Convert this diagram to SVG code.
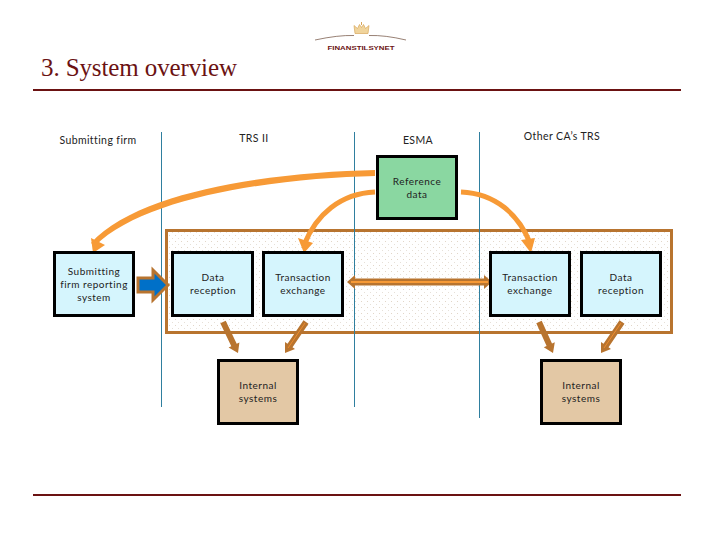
<svg xmlns="http://www.w3.org/2000/svg" width="720" height="540" viewBox="0 0 720 540">
<style>
text{font-family:"Lato","Open Sans","Liberation Sans",sans-serif;font-size:10px;font-weight:400;letter-spacing:.5px;fill:#222;text-anchor:middle}
.h{font-size:10.5px;letter-spacing:.4px}
.box{stroke:#000;stroke-width:3}
.blue{fill:#d5f5fd}
.tan{fill:#e3c8a5}
.v{stroke:#2f7f9f;stroke-width:1;fill:none}
.rule{fill:#6b1212}
.hd{fill:#f79a36}
.or{fill:none;stroke:#f79a36;stroke-width:5}
.br{stroke:#b8742f;fill:none}
.brf{fill:#b8742f}
.in{stroke:#f08c2c;stroke-width:1;fill:none}
</style>
<defs>
<pattern id="dots" width="6" height="6" patternUnits="userSpaceOnUse">
<rect x="1" y="1" width="1" height="1" fill="#e2d6c8"/><rect x="4" y="4" width="1" height="1" fill="#e6e0d8"/>
</pattern>
</defs>
<rect width="720" height="540" fill="#fff"/>
<g id="logo">
<path d="M355 33.500l-1-8 3.500 3 2-4 2 3 2-3 2 4 3.500-3-1 8z" fill="#f0d49c" stroke="#d9a75c" stroke-width=".7"/>
<path d="M361.500 22v3" stroke="#d9a75c" stroke-width="1"/>
<path d="M315 40Q338 35 354 35.500M369 35.500Q385 35 406 40" fill="none" stroke="#6b4a3a" stroke-width=".7"/>
<text x="361" y="50" style="font-family:'Liberation Sans',sans-serif;font-size:6px;font-weight:bold;letter-spacing:0;fill:#6b1212" textLength="67" lengthAdjust="spacingAndGlyphs">FINANSTILSYNET</text>
</g>
<text x="41" y="76" style="font-family:'Liberation Serif',serif;font-size:25px;font-weight:400;letter-spacing:0;fill:#6b1212;text-anchor:start" textLength="196">3. System overview</text>
<rect class="rule" x="33" y="89" width="648" height="2"/>
<rect class="rule" x="33" y="494" width="648" height="2"/>
<text class="h" x="98" y="144">Submitting firm</text>
<text class="h" x="254" y="142">TRS II</text>
<text class="h" x="418" y="144">ESMA</text>
<text class="h" x="562" y="140">Other CA’s TRS</text>
<g id="system-area">
<rect x="166.500" y="230.500" width="505" height="102" fill="#fff" stroke="#b8742f" stroke-width="3"/>
<rect x="168" y="232" width="502" height="99" fill="url(#dots)"/>
</g>
<g id="lanes">
<path class="v" d="M161.500 132V407M354.500 132V407M479.500 132V418"/>
</g>
<g id="connectors">
<path class="hd" d="M375 170C280 172 140 189 91 243L95 246C145 196 280 178 375 176z"/>
<path class="hd" d="M93 253L91 238 105 245z"/>
<path class="or" d="M375 192C340 193.500 316 215 304.500 244"/>
<path class="hd" d="M304 253L298 238 313 243z"/>
<path class="or" d="M461 192C496 193.500 519 215 530 243"/>
<path class="hd" d="M531 253L521 240 535 238z"/>
<path d="M138 278h15v-8l15 15-15 15v-8h-15z" fill="#0070c8" stroke="#b8742f" stroke-width="3"/>
<path class="br" stroke-width="7" d="M353 282h133"/>
<path class="brf" d="M347 282l8-7v14zM492 282l-8-7v14z"/>
<path stroke="#f79a36" stroke-width="2" fill="none" d="M351 282h137"/>
<path class="brf" d="M225.700 320.700L236.700 343.700 239.400 342.400 238 353 228.600 347.600 231.300 346.300 220.300 323.300z"/>
<path class="brf" d="M308.500 323.700L292.500 347.200 295 348.900 285 353 285 342.100 287.500 343.800 303.500 320.300z"/>
<path class="in" d="M305 323L288 348"/>
<path class="brf" d="M541.700 320.800L552 343.600 554.800 342.300 553 353 543.800 347.300 546.600 346 536.300 323.200z"/>
<path class="brf" d="M624.500 323.700L608.500 347.200 611 348.900 601 353 601 342.100 603.500 343.800 619.500 320.300z"/>
<path class="in" d="M621 323L604 348"/>
</g>
<g id="submitting-system"><rect class="box blue" x="54.500" y="252.500" width="79" height="63"/><text x="94" y="275">Submitting</text><text x="94" y="288">firm reporting</text><text x="94" y="301">system</text></g>
<g id="data-reception-left"><rect class="box blue" x="172.500" y="252.500" width="80" height="63"/><text x="213" y="281">Data</text><text x="213" y="294">reception</text></g>
<g id="transaction-left"><rect class="box blue" x="263.500" y="252.500" width="79" height="63"/><text x="303" y="281">Transaction</text><text x="303" y="294">exchange</text></g>
<g id="transaction-right"><rect class="box blue" x="490.500" y="252.500" width="79" height="63"/><text x="530" y="281">Transaction</text><text x="530" y="294">exchange</text></g>
<g id="data-reception-right"><rect class="box blue" x="581.500" y="252.500" width="79" height="63"/><text x="621" y="281">Data</text><text x="621" y="294">reception</text></g>
<g id="reference-data"><rect class="box" fill="#8ad7a1" x="377.500" y="156.500" width="79" height="62"/><text x="417" y="185">Reference</text><text x="417" y="198">data</text></g>
<g id="internal-left"><rect class="box tan" x="218.500" y="360.500" width="79" height="63"/><text x="258" y="389">Internal</text><text x="258" y="402">systems</text></g>
<g id="internal-right"><rect class="box tan" x="541.500" y="360.500" width="79" height="63"/><text x="581" y="389">Internal</text><text x="581" y="402">systems</text></g>
</svg>
